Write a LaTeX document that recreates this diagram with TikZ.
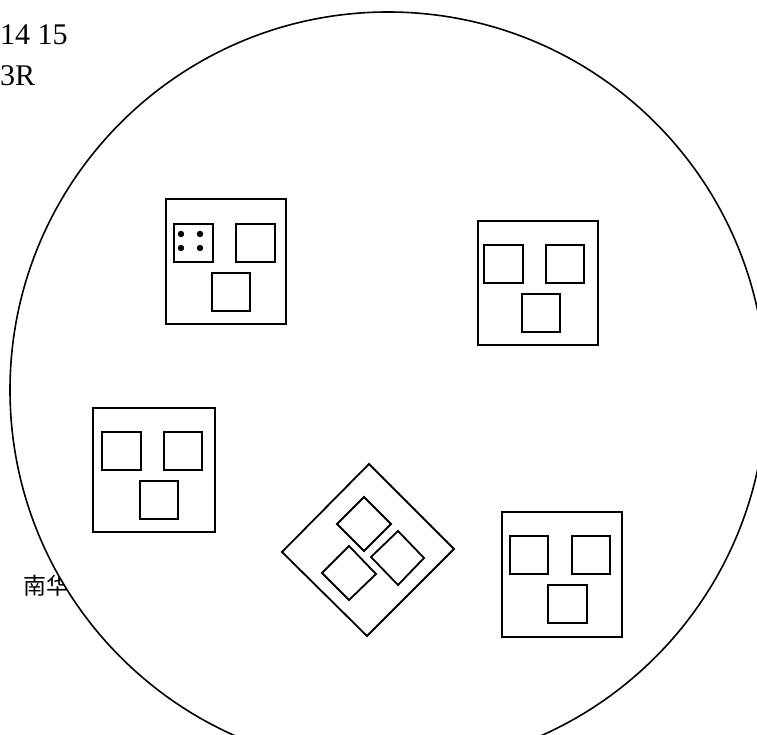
\documentclass[tikz,border=0pt]{standalone}
\usepackage{fontspec}
\setmainfont{Liberation Serif}
\newfontfamily\cjk{Noto Sans CJK SC}
\usepackage{tikz}
\usetikzlibrary{positioning}

\tikzset{
    chip/.style={draw, line width=1.8pt},
    cell/.style={draw, line width=1.8pt},
    label/.style={anchor=base west, inner sep=0pt, font=\fontsize{30}{36}\selectfont}
}

\begin{document}
\begin{tikzpicture}[x=1pt, y=-1pt]
    \useasboundingbox (0,0) rectangle (757,735);

    % Labels top left
    \node[label] (nums) at (0,45) {14 15};
    \node[label] (row) at (0,86) {3R};
    \node[label, font=\cjk\fontsize{23}{28}\selectfont] (name) at (23,594) {南华};

    % Wafer
    \draw[fill=white, line width=1.6pt] (388,390) circle (378);

    % Chip with dots
    \draw[chip] (166,199) rectangle (286,324);
    \draw[cell] (174,224) rectangle (213,262);
    \draw[cell] (236,224) rectangle (275,262);
    \draw[cell] (212,273) rectangle (250,311);
    \foreach \dx in {181,200}
        \foreach \dy in {234,248}
            \fill (\dx,\dy) circle (3.2);

    % Chip top right
    \draw[chip] (478,221) rectangle (598,345);
    \draw[cell] (484,245) rectangle (523,283);
    \draw[cell] (546,245) rectangle (584,283);
    \draw[cell] (522,294) rectangle (560,332);

    % Chip left
    \draw[chip] (93,408) rectangle (215,532);
    \draw[cell] (102,432) rectangle (141,470);
    \draw[cell] (164,432) rectangle (202,470);
    \draw[cell] (140,481) rectangle (178,519);

    % Chip bottom right
    \draw[chip] (502,512) rectangle (622,637);
    \draw[cell] (510,536) rectangle (548,574);
    \draw[cell] (572,536) rectangle (610,574);
    \draw[cell] (548,585) rectangle (587,623);

    % Rotated chip
    \draw[chip] (369,464) -- (454,549) -- (367,636) -- (282,552) -- cycle;
    \draw[cell] (364,497) -- (391,524) -- (364,551) -- (337,524) -- cycle;
    \draw[cell] (398,531) -- (424,558) -- (398,585) -- (371,557) -- cycle;
    \draw[cell] (349,546) -- (376,574) -- (349,600) -- (322,573) -- cycle;
\end{tikzpicture}
\end{document}
